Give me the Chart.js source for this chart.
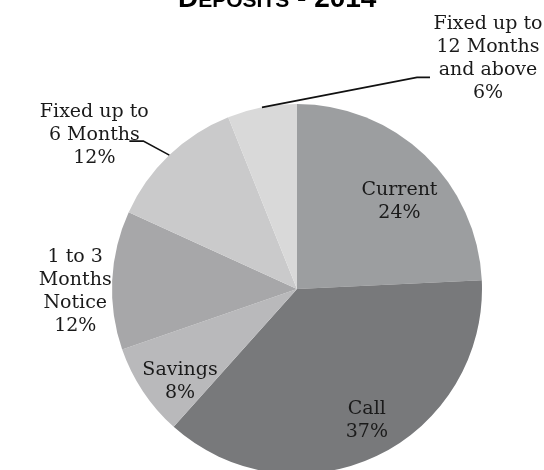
<!DOCTYPE html>
<html>
<head>
<meta charset="utf-8">
<script src="https://cdn.jsdelivr.net/npm/chart.js@4"></script>
<style>
  html, body { margin: 0; padding: 0; overflow: hidden; background: #fff; }
  canvas { display: block; }
</style>
</head>
<body>
<canvas id="chart" width="544" height="500"></canvas>
<script>
// deposit mix for the year
var categories = ["Current", "Call", "Savings", "1 to 3 Months Notice", "Fixed up to 6 Months", "Fixed up to 12 Months and above"];
var shares = [24, 37, 8, 12, 12, 6];
var labelLines = [
    ["Current"],
    ["Call"],
    ["Savings"],
    ["1 to 3", "Months", "Notice"],
    ["Fixed up to", "6 Months"],
    ["Fixed up to", "12 Months", "and above"]
];
var colors = ["#9c9ea0", "#78797b", "#b9b9bb", "#a7a7a9", "#cacacb", "#d9d9d9"];

// where each label sits relative to its slice: r = fraction of radius on the mid angle,
// dx/dy nudge; leader = [elbow, end] offsets from the slice edge point
var placement = [
    { r: 0.74, dx: 8, dy: 0 },
    { r: 0.74, dx: 11, dy: -4 },
    { r: 0.74, dx: -3, dy: 5 },
    { r: 1.2, dx: 0, dy: -21 },
    { r: 1, dx: -75, dy: -43, leader: [[-26, -14], [-40, -14]] },
    { r: 1, dx: 226, dy: -83, leader: [[155, -30], [168, -30]] }
];

var lineH = 23;

var pieLabels = {
    id: 'pieLabels',
    afterDatasetsDraw: function(chart) {
        var ctx = chart.ctx;
        var arcs = chart.getDatasetMeta(0).data;
        ctx.save();
        ctx.font = '19px "DejaVu Serif"';
        ctx.fillStyle = '#1a1a1a';
        ctx.textAlign = 'center';
        ctx.textBaseline = 'middle';
        arcs.forEach(function(arc, i) {
            var p = arc.getProps(['x', 'y', 'startAngle', 'endAngle', 'outerRadius'], true);
            var mid = (p.startAngle + p.endAngle) / 2;
            var pl = placement[i];
            var ex = p.x + Math.cos(mid) * p.outerRadius * pl.r;
            var ey = p.y + Math.sin(mid) * p.outerRadius * pl.r;
            if (pl.leader) {
                ctx.beginPath();
                ctx.strokeStyle = '#111';
                ctx.lineWidth = 1.6;
                ctx.moveTo(ex, ey);
                pl.leader.forEach(function(o) { ctx.lineTo(ex + o[0], ey + o[1]); });
                ctx.stroke();
            }
            var lines = labelLines[i].concat([shares[i] + '%']);
            var tx = ex + pl.dx;
            var ty = ey + pl.dy;
            lines.forEach(function(t, k) {
                ctx.fillText(t, tx, ty + k * lineH);
            });
        });
        ctx.restore();
    }
};

// heading in small caps, drawn by hand
var heading = {
    id: 'heading',
    afterDraw: function(chart) {
        var ctx = chart.ctx;
        var parts = [
            ['D', 28], ['EPOSITS', 21], [' - 2014', 28]
        ];
        var x = 178;
        ctx.save();
        ctx.fillStyle = '#000';
        ctx.textBaseline = 'alphabetic';
        ctx.textAlign = 'left';
        parts.forEach(function(p) {
            ctx.font = 'bold ' + p[1] + 'px "Liberation Sans"';
            ctx.fillText(p[0], x, 7);
            x += ctx.measureText(p[0]).width;
        });
        ctx.restore();
    }
};

var ctx = document.getElementById("chart");
var myChart = new Chart(ctx, {
    type: 'pie',
    data: {
        labels: categories,
        datasets: [{
            data: shares,
            backgroundColor: colors,
            borderWidth: 0,
            hoverOffset: 0
        }]
    },
    options: {
        responsive: false,
        maintainAspectRatio: false,
        animation: false,
        layout: {
            padding: { left: 112, right: 62, top: 104, bottom: 26 }
        },
        plugins: {
            legend: { display: false },
            title: { display: false },
            tooltip: { enabled: false }
        }
    },
    plugins: [pieLabels, heading]
});
</script>
</body>
</html>
